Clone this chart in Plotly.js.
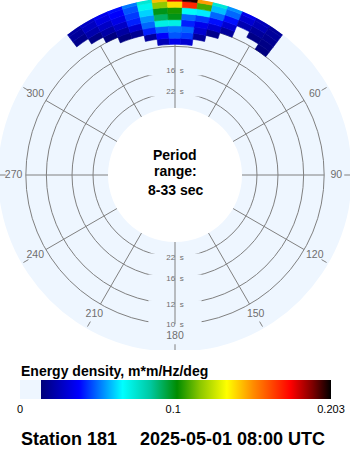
<!DOCTYPE html>
<html>
<head>
<meta charset="utf-8">
<script src="https://cdn.plot.ly/plotly-3.0.1.min.js"></script>
<style>
  html, body { margin:0; padding:0; background:#ffffff; overflow:hidden; width:350px; height:450px; }
  #chart { position:absolute; left:-2px; top:-2px; width:354px; height:452px; }
</style>
</head>
<body>
<div id="chart"></div>
<script>
// ---------------- data ----------------
// direction bins (deg, centre, clockwise from north), 5 deg wide
const directions = [325, 330, 335, 340, 345, 350, 355, 0, 5, 10, 15, 20, 25, 30, 35];
// frequency bins (Hz): lower and upper edges
const freqLow  = [0.080, 0.085, 0.090, 0.095, 0.100, 0.105, 0.110, 0.115, 0.120];
const freqHigh = [0.085, 0.090, 0.095, 0.100, 0.105, 0.110, 0.115, 0.120, 0.1226];
// energy density m*m/Hz/deg  (rows = directions, cols = frequency bins); null = below colour threshold
const n = null;
const e325 = [n, n, n, n, n, n, 0.017, 0.020, 0.021];
const e330 = [n, n, n, n, n, 0.016, 0.023, 0.027, 0.028];
const e335 = [n, n, n, n, 0.015, 0.022, 0.028, 0.033, 0.035];
const e340 = [n, n, n, 0.015, 0.021, 0.028, 0.034, 0.038, 0.040];
const e345 = [n, n, n, 0.018, 0.030, 0.042, 0.045, 0.048, 0.052];
const e350 = [n, n, 0.020, 0.042, 0.050, 0.055, 0.062, 0.070, 0.075];
const e355 = [n, 0.025, 0.038, 0.050, 0.072, 0.092, 0.100, 0.118, 0.145];
const e000 = [n, 0.035, 0.048, 0.052, 0.072, 0.100, 0.105, 0.140, 0.180];
const e005 = [n, 0.030, 0.045, 0.050, 0.042, 0.050, 0.068, 0.170, 0.200];
const e010 = [n, n, 0.020, 0.030, 0.035, 0.045, 0.065, 0.110, 0.150];
const e015 = [n, n, n, 0.017, 0.030, 0.040, 0.050, 0.060, 0.075];
const e020 = [n, n, n, n, 0.020, 0.030, 0.040, 0.050, 0.055];
const e025 = [n, n, n, n, n, n, 0.024, 0.030, 0.035];
const e030 = [n, n, n, n, n, 0.016, 0.020, 0.025, 0.026];
const e035 = [n, n, n, n, 0.015, 0.016, 0.018, 0.020, 0.020];
const energy = [e325, e330, e335, e340, e345, e350, e355, e000, e005, e010, e015, e020, e025, e030, e035];

const periodRings = [22, 16, 12, 10];           // seconds
const ringLabels = ['22\u00a0\u00a0s', '16\u00a0\u00a0s', '12\u00a0\u00a0s', '10\u00a0\u00a0s'];
const spokeAngles = [0, 30, 60, 90, 120, 150, 180, 210, 240, 270, 300, 330];
const angleLabelAngles = [30, 60, 90, 120, 150, 180, 210, 240, 270, 300];
const angleLabels = ['30', '60', '90', '120', '150', '180', '210', '240', '270', '300'];
const cMax = 0.203;
const colorTickVals = [0, 0.1, 0.203];
const colorTickText = ['0', '0.1', '0.203'];

// ---------------- styling constants ----------------
const pale = '#eef6ff';
const gridCol = '#808080';
const fMin = 0.0333, fMax = 0.1226;
const font = 'Liberation Sans, Arial, Helvetica, sans-serif';

// ---------------- build traces ----------------
const th = [], base = [], rr = [], col = [];
directions.forEach((d, i) => {
  freqLow.forEach((f, j) => {
    const v = energy[i][j];
    if (v !== null) { th.push(d); base.push(f); rr.push(freqHigh[j] - f); col.push(v); }
  });
});

const cscale = [
  [0, pale], [0.0675, pale], [0.068, '#00007a'], [0.19, '#0000ff'], [0.33, '#00ffff'],
  [0.42, '#00c8a0'], [0.505, '#008c00'], [0.58, '#8cc800'], [0.665, '#ffff00'], [0.75, '#ff8c00'],
  [0.87, '#ff0000'], [0.94, '#800000'], [1, '#000000']
];

const ringF = periodRings.map(p => 1 / p);
const ringOff = 0.0009;

// which ring labels show at top (0 deg) and bottom (180 deg)
const topRings = [22, 16];
const labTheta = [], labR = [], labText = [];
periodRings.forEach((p, i) => {
  if (topRings.includes(p)) { labTheta.push(0); labR.push(1 / p + ringOff); labText.push(ringLabels[i]); }
  labTheta.push(180); labR.push(1 / p + ringOff); labText.push(ringLabels[i]);
});

// gap (background) markers behind ring labels
const gapTrace = {
  type: 'scatterpolar', subplot: 'polar', mode: 'markers', theta: labTheta, r: labR,
  marker: { symbol: 'line-ew', size: 38, line: { width: 9, color: pale } },
  hoverinfo: 'skip', showlegend: false
};

// spokes
const spTheta = [], spR = [];
spokeAngles.forEach(a => { spTheta.push(a, a, null); spR.push(fMin, 0.1, null); });
const spokeTrace = {
  type: 'scatterpolar', subplot: 'polar', mode: 'lines', theta: spTheta, r: spR,
  line: { color: gridCol, width: 1 }, hoverinfo: 'skip', showlegend: false
};
// outer ticks
const tkTheta = [], tkR = [];
spokeAngles.forEach(a => { tkTheta.push(a, a, null); tkR.push(0.1163, 0.121, null); });
const tickTrace = {
  type: 'scatterpolar', subplot: 'polar', mode: 'lines', theta: tkTheta, r: tkR,
  line: { color: gridCol, width: 1 }, hoverinfo: 'skip', showlegend: false
};
// angle labels
const angTrace = {
  type: 'scatterpolar', subplot: 'polar', mode: 'text', theta: angleLabelAngles,
  r: angleLabelAngles.map(() => 0.1099), text: angleLabels,
  textfont: { family: font, size: 10.5, color: '#6e6e6e' }, textposition: 'middle center',
  hoverinfo: 'skip', showlegend: false
};
// ring labels
const ringLabelTrace = {
  type: 'scatterpolar', subplot: 'polar', mode: 'text', theta: labTheta, r: labR, text: labText,
  textfont: { family: font, size: 8, color: '#6e6e6e' }, textposition: 'middle center',
  hoverinfo: 'skip', showlegend: false
};

const W = 354, H = 452, OFF = 2, R = 177;
const py = v => 1 - (v + OFF) / H;   // page y -> paper y
const px = v => (v + OFF) / W;       // page x -> paper x

const dataTrace = {
  type: 'barpolar', subplot: 'polar2', theta: th, base: base, r: rr, width: 5,
  marker: {
    color: col, colorscale: cscale, cmin: 0, cmax: cMax,
    line: { width: 0.6, color: col, colorscale: cscale, cmin: 0, cmax: cMax },
    showscale: true,
    colorbar: {
      orientation: 'h', x: px(175.5), xanchor: 'center', y: py(380), yanchor: 'top',
      len: 311, lenmode: 'pixels', thickness: 19, thicknessmode: 'pixels',
      xpad: 0, ypad: 0, outlinewidth: 0, ticks: '',
      tickvals: colorTickVals, ticktext: colorTickText,
      tickfont: { family: font, size: 11, color: '#000000' },
      title: { text: '' }
    }
  },
  hoverinfo: 'skip', showlegend: false
};

const dom = { x: [0, 1], y: [1 - 2 * R / H, 1] };
const angAx = { rotation: 90, direction: 'clockwise', showgrid: false, showticklabels: false, ticks: '', showline: false };

const layout = {
  width: W, height: H,
  margin: { l: 0, r: 0, t: 0, b: 0, pad: 0 },
  paper_bgcolor: '#ffffff',
  showlegend: false,
  polar: {
    domain: dom, bgcolor: pale, hole: 67 / R,
    radialaxis: {
      range: [fMin, fMax], tickvals: ringF, showticklabels: false, ticks: '',
      showline: false, showgrid: true, gridcolor: gridCol, gridwidth: 1, angle: 90
    },
    angularaxis: angAx
  },
  polar2: {
    domain: dom, bgcolor: 'rgba(0,0,0,0)', hole: 67 / R,
    radialaxis: { range: [fMin, fMax], showticklabels: false, ticks: '', showline: false, showgrid: false },
    angularaxis: angAx
  },
  shapes: [
    { type: 'rect', xref: 'paper', yref: 'paper', x0: 0, x1: 1, y0: py(356), y1: py(350),
      fillcolor: '#ffffff', line: { width: 0 }, layer: 'above' }
  ],
  annotations: [
    { text: '<b>Period</b>', x: px(175), y: py(155), xref: 'paper', yref: 'paper', showarrow: false,
      xanchor: 'center', yanchor: 'middle', font: { family: font, size: 14, color: '#000' } },
    { text: '<b>range:</b>', x: px(175), y: py(171), xref: 'paper', yref: 'paper', showarrow: false,
      xanchor: 'center', yanchor: 'middle', font: { family: font, size: 14, color: '#000' } },
    { text: '<b>8-33 sec</b>', x: px(175), y: py(190), xref: 'paper', yref: 'paper', showarrow: false,
      xanchor: 'center', yanchor: 'middle', font: { family: font, size: 14, color: '#000' } },
    { text: '<b>Energy density, m*m/Hz/deg</b>', x: px(19), y: py(370.5), xref: 'paper', yref: 'paper',
      showarrow: false, xanchor: 'left', yanchor: 'middle', font: { family: font, size: 14, color: '#000' } },
    { text: '<b>Station 181</b>', x: px(18.5), y: py(438.5), xref: 'paper', yref: 'paper',
      showarrow: false, xanchor: 'left', yanchor: 'middle', font: { family: font, size: 18, color: '#000' } },
    { text: '<b>2025-05-01 08:00 UTC</b>', x: px(137.5), y: py(438.5), xref: 'paper', yref: 'paper',
      showarrow: false, xanchor: 'left', yanchor: 'middle', font: { family: font, size: 18, color: '#000' } }
  ]
};

Plotly.newPlot('chart', [gapTrace, spokeTrace, tickTrace, angTrace, ringLabelTrace, dataTrace], layout,
  { staticPlot: true, displayModeBar: false });
</script>
</body>
</html>
